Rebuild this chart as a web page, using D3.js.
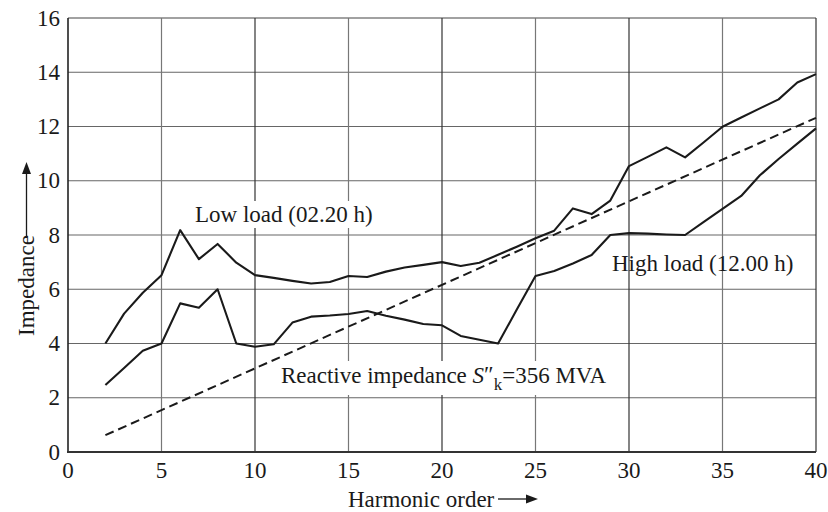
<!DOCTYPE html>
<html><head><meta charset="utf-8">
<script src="https://cdn.jsdelivr.net/npm/d3@7"></script>
<style>
html,body{margin:0;padding:0;background:#fff;}
</style></head>
<body><svg id="c" width="828" height="512"></svg>
<script>
const harmonics = d3.range(2, 41);
const lowLoad = [4.0,5.1,5.87,6.52,8.18,7.11,7.67,6.98,6.52,6.42,6.31,6.21,6.27,6.49,6.45,6.65,6.8,6.9,7.0,6.86,6.98,7.27,7.57,7.88,8.16,8.98,8.77,9.27,10.54,10.88,11.23,10.86,11.42,11.99,12.33,12.67,13.0,13.62,13.93];
const highLoad = [2.47,3.1,3.73,4.0,5.48,5.32,6.0,4.0,3.88,3.97,4.77,4.99,5.03,5.09,5.2,5.02,4.88,4.72,4.67,4.28,4.14,4.0,5.25,6.49,6.67,6.95,7.26,8.0,8.07,8.05,8.02,8.0,8.48,8.96,9.44,10.2,10.8,11.37,11.93];
const reactiveH = [2, 40];
const reactiveZ = [0.62, 12.32];
const xTicks = [0,5,10,15,20,25,30,35,40];
const yTicks = [0,2,4,6,8,10,12,14,16];

const FONT = "Liberation Serif";
const svg = d3.select("#c");
const L = 68, R = 816, T = 18, B = 452;
const x = d3.scaleLinear().domain([0,40]).range([L,R]);
const y = d3.scaleLinear().domain([0,16]).range([B,T]);
const FS = 23;
const INK = "#1a1a1a";

// gridlines
const g = svg.append("g");
g.selectAll("line.h").data(yTicks.filter(d=>d>0)).join("line")
  .attr("x1",L).attr("x2",R).attr("y1",d=>y(d)).attr("y2",d=>y(d))
  .attr("stroke",d=>d===16?"#444":"#666").attr("stroke-width",1.2);
g.selectAll("line.v").data(xTicks.filter(d=>d>0)).join("line")
  .attr("y1",T).attr("y2",B).attr("x1",d=>x(d)).attr("x2",d=>x(d))
  .attr("stroke",d=>d%10===0?"#333":"#777").attr("stroke-width",1.2);

// axes frame
svg.append("line").attr("x1",L).attr("x2",L).attr("y1",T).attr("y2",B).attr("stroke","#222").attr("stroke-width",1.6);
svg.append("line").attr("x1",L-1).attr("x2",R).attr("y1",B).attr("y2",B).attr("stroke","#333").attr("stroke-width",2);

function txt(sel){ return sel.attr("font-family",FONT).attr("font-size",FS).attr("fill",INK); }

// tick labels
txt(svg.selectAll("text.yt").data(yTicks).join("text"))
  .attr("x",L-8).attr("y",d=>y(d)).attr("dy","0.33em")
  .attr("text-anchor","end").text(d=>d);
txt(svg.selectAll("text.xt").data(xTicks).join("text"))
  .attr("x",d=>x(d)).attr("y",478).attr("text-anchor","middle").text(d=>d);

// annotation with white background
function boxedText(tx, ty, build, pad){
  const t = build(txt(svg.append("text")).attr("x",tx).attr("y",ty));
  const bb = t.node().getBBox();
  svg.insert("rect", function(){return t.node();})
    .attr("x",bb.x-pad).attr("y",bb.y-1).attr("width",bb.width+2*pad).attr("height",bb.height+2)
    .attr("fill","#fff");
  return t;
}
boxedText(195, 222, t=>t.text("Low load (02.20 h)"), 2);
boxedText(281, 383, t=>{
  t.append("tspan").text("Reactive impedance  ");
  t.append("tspan").attr("font-style","italic").text("S");
  t.append("tspan").attr("dy",-1).text("\u2033");
  t.append("tspan").attr("dy",8).attr("font-size",17).text("k");
  t.append("tspan").attr("dy",-7).text("=356 MVA");
  return t;
}, 3);
txt(svg.append("text")).attr("x",612).attr("y",271).text("High load (12.00 h)");

// lines
const line = d3.line().x(d=>x(d[0])).y(d=>y(d[1]));
svg.append("path").datum(d3.zip(reactiveH, reactiveZ)).attr("d",line)
  .attr("fill","none").attr("stroke",INK).attr("stroke-width",2).attr("stroke-dasharray","9,5");
svg.append("path").datum(d3.zip(harmonics, lowLoad)).attr("d",line)
  .attr("fill","none").attr("stroke",INK).attr("stroke-width",2.1).attr("stroke-linejoin","round");
svg.append("path").datum(d3.zip(harmonics, highLoad)).attr("d",line)
  .attr("fill","none").attr("stroke",INK).attr("stroke-width",2.1).attr("stroke-linejoin","round");

// axis titles with arrows
txt(svg.append("text")).attr("x",348).attr("y",507).text("Harmonic order");
svg.append("line").attr("x1",498).attr("x2",528).attr("y1",499).attr("y2",499).attr("stroke",INK).attr("stroke-width",1.3);
svg.append("path").attr("d","M526,494.5 L538,499 L526,503.5 Z").attr("fill",INK);

txt(svg.append("text")).attr("transform","translate(34,336) rotate(-90)").text("Impedance");
svg.append("line").attr("x1",26.5).attr("x2",26.5).attr("y1",238).attr("y2",172).attr("stroke",INK).attr("stroke-width",1.3);
svg.append("path").attr("d","M22,174 L26.5,162 L31,174 Z").attr("fill",INK);
</script></body></html>
